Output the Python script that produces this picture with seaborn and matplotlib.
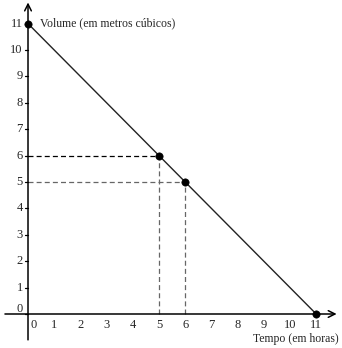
import matplotlib
matplotlib.use("Agg")
import matplotlib.pyplot as plt
import seaborn as sns
import pandas as pd

sns.set_style("white")
plt.rcParams["font.family"] = ["Liberation Serif", "DejaVu Serif"]

# Volume in the tank over time
tempo = [0, 5, 6, 11]
volume = [11, 6, 5, 0]
x_ticks = list(range(0, 12))
y_ticks = list(range(0, 12))
x_label = "Tempo (em horas)"
y_label = "Volume (em metros cúbicos)"

df = pd.DataFrame({"tempo": tempo, "volume": volume})

fig = plt.figure(figsize=(3.42, 3.48), dpi=100)
ax = fig.add_axes([0, 0, 1, 1])
ax.set_xlim(-1.069, 11.985)
ax.set_ylim(-1.288, 11.894)
ax.axis("off")

# coordinate axes with open arrowheads
ax.annotate("", xy=(11.78, 0), xytext=(-0.88, 0),
            arrowprops=dict(arrowstyle="->", color="black", lw=1.1,
                            mutation_scale=12, shrinkA=0, shrinkB=0))
ax.annotate("", xy=(0, 11.80), xytext=(0, -0.98),
            arrowprops=dict(arrowstyle="->", color="black", lw=1.1,
                            mutation_scale=12, shrinkA=0, shrinkB=0))

# guide lines to the two highlighted points
ax.plot([0, 5], [6, 6], ls=(0, (4, 2.5)), color="black", lw=0.9)
ax.plot([0, 6], [5, 5], ls=(0, (4, 2.5)), color="#666666", lw=0.9)
ax.plot([5, 5], [0, 6], ls=(0, (4, 2.5)), color="#666666", lw=0.9)
ax.plot([6, 6], [0, 5], ls=(0, (4, 2.5)), color="#666666", lw=0.9)

sns.lineplot(data=df, x="tempo", y="volume", ax=ax, color="#222222", lw=1.0)
sns.scatterplot(data=df, x="tempo", y="volume", ax=ax, color="black",
                s=28, edgecolor="black", zorder=5)

# tick marks and labels
for t in y_ticks:
    ax.plot([-0.12, 0], [t, t], color="black", lw=0.9)
    dy = 0.2 if t == 0 else 0
    ax.text(-0.2, t + dy, str(t), ha="right", va="center", fontsize=9)
for t in x_ticks:
    dx = 0.2 if t == 0 else 0
    ax.text(t + dx, -0.42, str(t), ha="center", va="center", fontsize=9)

ax.text(0.45, 11.0, y_label, ha="left", va="center", fontsize=8.5)
ax.text(11.85, -0.93, x_label, ha="right", va="center", fontsize=8.5)

fig.savefig("out.png", dpi=100)
